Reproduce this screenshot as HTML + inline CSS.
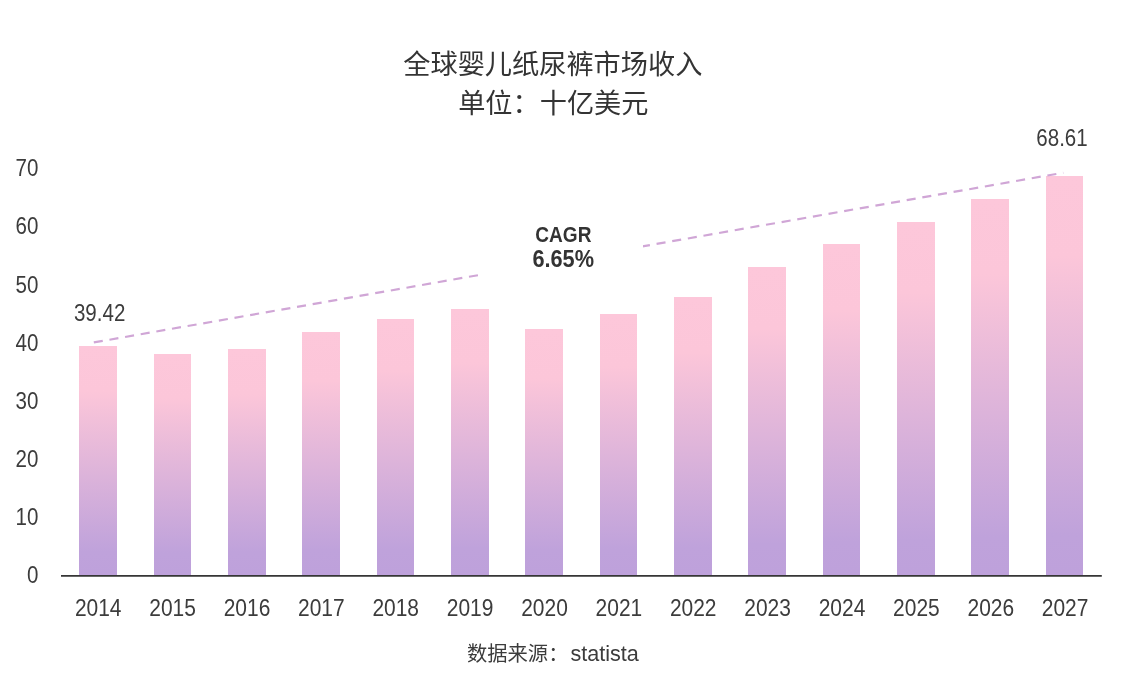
<!DOCTYPE html>
<html lang="zh-CN">
<head>
<meta charset="utf-8">
<title>全球婴儿纸尿裤市场收入</title>
<style>
html,body{margin:0;padding:0;background:#fff;}
body{width:1127px;height:677px;overflow:hidden;font-family:'Liberation Sans', 'Noto Sans CJK SC', sans-serif;}
svg{display:block;}
text{font-family:'Liberation Sans', 'Noto Sans CJK SC', sans-serif;fill:#3c3c3c;}
.t{font-size:27.2px;text-anchor:middle;fill:#343434;}
.y{font-size:23px;text-anchor:end;}
.x{font-size:23px;text-anchor:middle;}
.v{font-size:23px;text-anchor:middle;}
.c{font-weight:bold;text-anchor:middle;fill:#333;}
.s{font-size:20px;text-anchor:middle;}
</style>
</head>
<body>
<svg width="1127" height="677" viewBox="0 0 1127 677">
<defs>
<linearGradient id="g" x1="0" y1="0" x2="0" y2="1">
<stop offset="0" stop-color="#fdc7da"/>
<stop offset="0.2" stop-color="#fcc6d9"/>
<stop offset="0.9" stop-color="#bfa2db"/>
<stop offset="1" stop-color="#bea1db"/>
</linearGradient>
</defs>
<rect width="1127" height="677" fill="#ffffff"/>
<text class="t" x="552.8" y="73.6">全球婴儿纸尿裤市场收入</text>
<text class="t" x="553.3" y="112.6">单位：十亿美元</text>
<rect x="79" y="346" width="38" height="229" fill="url(#g)"/>
<rect x="154" y="354" width="37" height="221" fill="url(#g)"/>
<rect x="228" y="349" width="38" height="226" fill="url(#g)"/>
<rect x="302" y="332" width="38" height="243" fill="url(#g)"/>
<rect x="377" y="319" width="37" height="256" fill="url(#g)"/>
<rect x="451" y="309" width="38" height="266" fill="url(#g)"/>
<rect x="525" y="329" width="38" height="246" fill="url(#g)"/>
<rect x="600" y="314" width="37" height="261" fill="url(#g)"/>
<rect x="674" y="297" width="38" height="278" fill="url(#g)"/>
<rect x="748" y="267" width="38" height="308" fill="url(#g)"/>
<rect x="823" y="244" width="37" height="331" fill="url(#g)"/>
<rect x="897" y="222" width="38" height="353" fill="url(#g)"/>
<rect x="971" y="199" width="38" height="376" fill="url(#g)"/>
<rect x="1046" y="176" width="37" height="399" fill="url(#g)"/>
<rect x="61" y="575" width="1040.8" height="1.75" fill="#363636"/>
<line x1="93.8" y1="342.45" x2="1063.3" y2="172.75" stroke="#d0a6d6" stroke-width="2.2" stroke-dasharray="9.1 6.77" fill="none"/>
<rect x="478.2" y="214" width="164.8" height="66" fill="#ffffff"/>
<text class="y" transform="translate(38.4 583.3) scale(0.893 1)">0</text>
<text class="y" transform="translate(38.4 525.1) scale(0.893 1)">10</text>
<text class="y" transform="translate(38.4 467.0) scale(0.893 1)">20</text>
<text class="y" transform="translate(38.4 408.8) scale(0.893 1)">30</text>
<text class="y" transform="translate(38.4 350.7) scale(0.893 1)">40</text>
<text class="y" transform="translate(38.4 292.5) scale(0.893 1)">50</text>
<text class="y" transform="translate(38.4 234.3) scale(0.893 1)">60</text>
<text class="y" transform="translate(38.4 176.2) scale(0.893 1)">70</text>
<text class="x" transform="translate(98.2 616) scale(0.912 1)">2014</text>
<text class="x" transform="translate(172.6 616) scale(0.912 1)">2015</text>
<text class="x" transform="translate(247.0 616) scale(0.912 1)">2016</text>
<text class="x" transform="translate(321.3 616) scale(0.912 1)">2017</text>
<text class="x" transform="translate(395.7 616) scale(0.912 1)">2018</text>
<text class="x" transform="translate(470.1 616) scale(0.912 1)">2019</text>
<text class="x" transform="translate(544.5 616) scale(0.912 1)">2020</text>
<text class="x" transform="translate(618.9 616) scale(0.912 1)">2021</text>
<text class="x" transform="translate(693.2 616) scale(0.912 1)">2022</text>
<text class="x" transform="translate(767.6 616) scale(0.912 1)">2023</text>
<text class="x" transform="translate(842.0 616) scale(0.912 1)">2024</text>
<text class="x" transform="translate(916.4 616) scale(0.912 1)">2025</text>
<text class="x" transform="translate(990.8 616) scale(0.912 1)">2026</text>
<text class="x" transform="translate(1065.1 616) scale(0.912 1)">2027</text>
<text class="v" transform="translate(99.6 320.9) scale(0.893 1)">39.42</text>
<text class="v" transform="translate(1062 145.85) scale(0.893 1)">68.61</text>
<text class="c" transform="translate(563.4 242) scale(0.855 1)" font-size="22.3">CAGR</text>
<text class="c" transform="translate(563.2 267.2) scale(0.933 1)" font-size="23.3">6.65%</text>
<text class="s" y="660.5"><tspan x="467" text-anchor="start" font-size="20.3">数据来源：</tspan><tspan x="638.8" text-anchor="end" font-size="21.6">statista</tspan></text>
</svg>
</body>
</html>
